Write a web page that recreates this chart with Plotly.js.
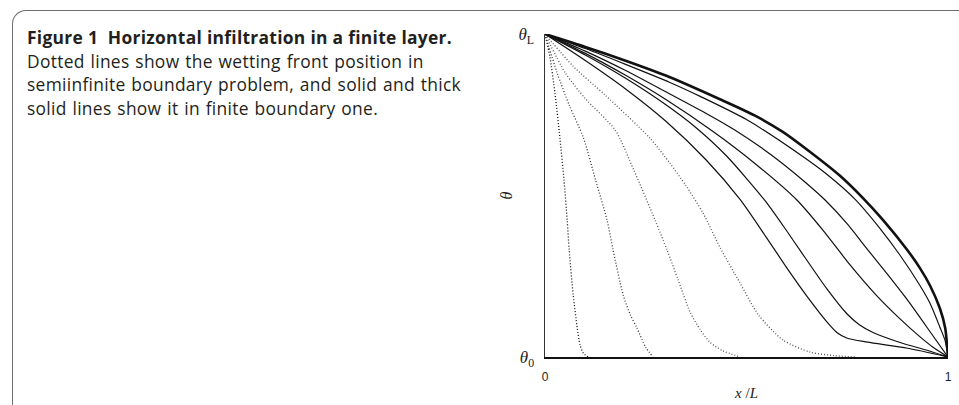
<!DOCTYPE html>
<html>
<head>
<meta charset="utf-8">
<script src="https://cdn.plot.ly/plotly-3.0.1.min.js"></script>
<style>
  html, body { margin: 0; padding: 0; background: #fff; }
  #wrap { position: relative; width: 959px; height: 405px; overflow: hidden; }
  #chart { position: absolute; left: 0; top: 0; width: 959px; height: 405px; }
  #frame {
    position: absolute; left: 12px; top: 10px; width: 960px; height: 420px;
    border-left: 1.5px solid #6d6e71; border-top: 1.5px solid #6d6e71;
    border-top-left-radius: 14px; pointer-events: none;
  }
  #caption {
    position: absolute; left: 27px; top: 26px; width: 480px;
    font-family: "Open Sans", "Noto Sans", sans-serif; font-size: 17.4px;
    letter-spacing: 0.3px; word-spacing: 1px;
    line-height: 23.5px; color: #231f20; pointer-events: none; white-space: nowrap;
  }
  #caption b { font-weight: 700; letter-spacing: 0.3px; word-spacing: 0px; }
</style>
</head>
<body>
<div id="wrap">
  <div id="chart"></div>
  <div id="frame"></div>
  <div id="caption">
    <b>Figure 1&nbsp;&nbsp;Horizontal infiltration in a finite layer.</b><br>
    Dotted lines show the wetting front position in<br>
    semiinfinite boundary problem, and solid and thick<br>
    solid lines show it in finite boundary one.
  </div>
</div>
<script>
// Water content profiles theta(x/L), normalised so theta0 -> 0 and thetaL -> 1.

// Semi-infinite boundary problem (dotted), four successive times
const semiX1 = [0, 0.012, 0.025, 0.037, 0.047, 0.055, 0.060, 0.070, 0.080, 0.087, 0.095, 0.107];
const semiY1 = [1, 0.93, 0.814, 0.678, 0.55, 0.424, 0.331, 0.192, 0.09, 0.037, 0.012, 0];
const semiX2 = [0, 0.03, 0.06, 0.095, 0.125, 0.154, 0.169, 0.194, 0.212, 0.228, 0.25, 0.268];
const semiY2 = [1, 0.88, 0.78, 0.68, 0.55, 0.424, 0.331, 0.192, 0.13, 0.09, 0.03, 0];
const semiX3 = [0, 0.05, 0.10, 0.174, 0.22, 0.273, 0.303, 0.33, 0.36, 0.385, 0.409, 0.44, 0.484];
const semiY3 = [1, 0.88, 0.80, 0.703, 0.58, 0.424, 0.331, 0.24, 0.139, 0.085, 0.046, 0.02, 0];
const semiX4 = [0, 0.07, 0.15, 0.26, 0.31, 0.35, 0.392, 0.434, 0.484, 0.53, 0.59, 0.658, 0.72, 0.774];
const semiY4 = [1, 0.9, 0.81, 0.678, 0.60, 0.53, 0.446, 0.34, 0.229, 0.13, 0.053, 0.015, 0.004, 0];

// Finite boundary problem (solid), five successive times
const finX1 = [0, 0.1, 0.2, 0.3, 0.4, 0.484, 0.55, 0.6, 0.653, 0.7, 0.725, 0.75, 0.8, 0.9, 1];
const finY1 = [1, 0.918, 0.83, 0.73, 0.61, 0.488, 0.369, 0.276, 0.183, 0.108, 0.075, 0.058, 0.046, 0.027, 0];
const finX2 = [0, 0.1, 0.2, 0.3, 0.372, 0.45, 0.546, 0.6, 0.633, 0.7, 0.749, 0.78, 0.814, 0.881, 0.95, 1];
const finY2 = [1, 0.935, 0.863, 0.781, 0.713, 0.623, 0.484, 0.39, 0.33, 0.21, 0.134, 0.1, 0.076, 0.045, 0.02, 0];
const finX3 = [0, 0.1, 0.2, 0.3, 0.417, 0.52, 0.625, 0.69, 0.757, 0.82, 0.881, 0.93, 0.963, 1];
const finY3 = [1, 0.94, 0.872, 0.797, 0.698, 0.6, 0.486, 0.392, 0.285, 0.194, 0.118, 0.063, 0.03, 0];
const finX4 = [0, 0.1, 0.2, 0.3, 0.4, 0.471, 0.56, 0.645, 0.695, 0.75, 0.799, 0.85, 0.898, 0.963, 1];
const finY4 = [1, 0.947, 0.887, 0.821, 0.754, 0.703, 0.627, 0.542, 0.486, 0.412, 0.335, 0.256, 0.179, 0.065, 0];
const finX5 = [0, 0.1, 0.2, 0.31, 0.385, 0.5, 0.645, 0.7, 0.769, 0.83, 0.881, 0.93, 0.955, 0.98, 0.993, 1];
const finY5 = [1, 0.955, 0.906, 0.85, 0.807, 0.735, 0.616, 0.565, 0.489, 0.40, 0.315, 0.222, 0.167, 0.092, 0.05, 0];

// Finite boundary problem, final profile (thick solid)
const finalX = [0, 0.1, 0.2, 0.31, 0.434, 0.52, 0.59, 0.645, 0.732, 0.789, 0.839, 0.898, 0.93, 0.955, 0.98, 0.993, 1];
const finalY = [1, 0.96, 0.917, 0.866, 0.798, 0.748, 0.697, 0.647, 0.561, 0.492, 0.424, 0.333, 0.276, 0.222, 0.15, 0.09, 0];

// Axis labels
const xTickVals = [0, 1];
const xTickText = ['0', '1'];
const yTickVals = [0, 1];
const yTickText = ['<i>θ</i><sub>0</sub>', '<i>θ</i><sub>L</sub>'];

const dotted = (x, y, c) => ({
  x, y, type: 'scatter', mode: 'lines',
  line: { color: c, width: 1.3, dash: '1px,2px', shape: 'spline', smoothing: 0.7 },
  hoverinfo: 'skip', showlegend: false
});
const solid = (x, y, w) => ({
  x, y, type: 'scatter', mode: 'lines',
  line: { color: '#111', width: w, shape: 'spline', smoothing: 0.7 },
  hoverinfo: 'skip', showlegend: false
});

const traces = [
  dotted(semiX1, semiY1, '#111'),
  dotted(semiX2, semiY2, '#333'),
  dotted(semiX3, semiY3, '#555'),
  dotted(semiX4, semiY4, '#555'),
  solid(finX1, finY1, 1.2),
  solid(finX2, finY2, 1.2),
  solid(finX3, finY3, 1.2),
  solid(finX4, finY4, 1.2),
  solid(finX5, finY5, 1.2),
  solid(finalX, finalY, 2.6)
];

const layout = {
  width: 959, height: 405,
  margin: { l: 545, r: 11, t: 34, b: 48, pad: 0 },
  paper_bgcolor: '#fff', plot_bgcolor: '#fff',
  xaxis: {
    range: [0, 1], showgrid: false, zeroline: false,
    showline: true, linecolor: '#111', linewidth: 1.5,
    ticks: '', tickvals: xTickVals, ticktext: xTickText,
    ticklabelstandoff: 8,
    tickfont: { family: 'Liberation Sans, Arial, sans-serif', size: 12, color: '#222' },
    title: { text: '<i>x</i> /<i>L</i>', standoff: 4,
             font: { family: 'Liberation Serif, Times New Roman, serif', size: 15, color: '#222' } }
  },
  yaxis: {
    range: [0, 1], showgrid: false, zeroline: false,
    showline: true, linecolor: '#333', linewidth: 1.5,
    ticks: '', tickvals: yTickVals, ticktext: yTickText,
    ticklabelstandoff: 6,
    tickfont: { family: 'Liberation Serif, Times New Roman, serif', size: 17, color: '#222' },
    title: { text: '<i>θ</i>', standoff: 2,
             font: { family: 'Liberation Serif, Times New Roman, serif', size: 16, color: '#222' } }
  }
};

Plotly.newPlot('chart', traces, layout, { staticPlot: true, displayModeBar: false });
</script>
</body>
</html>
